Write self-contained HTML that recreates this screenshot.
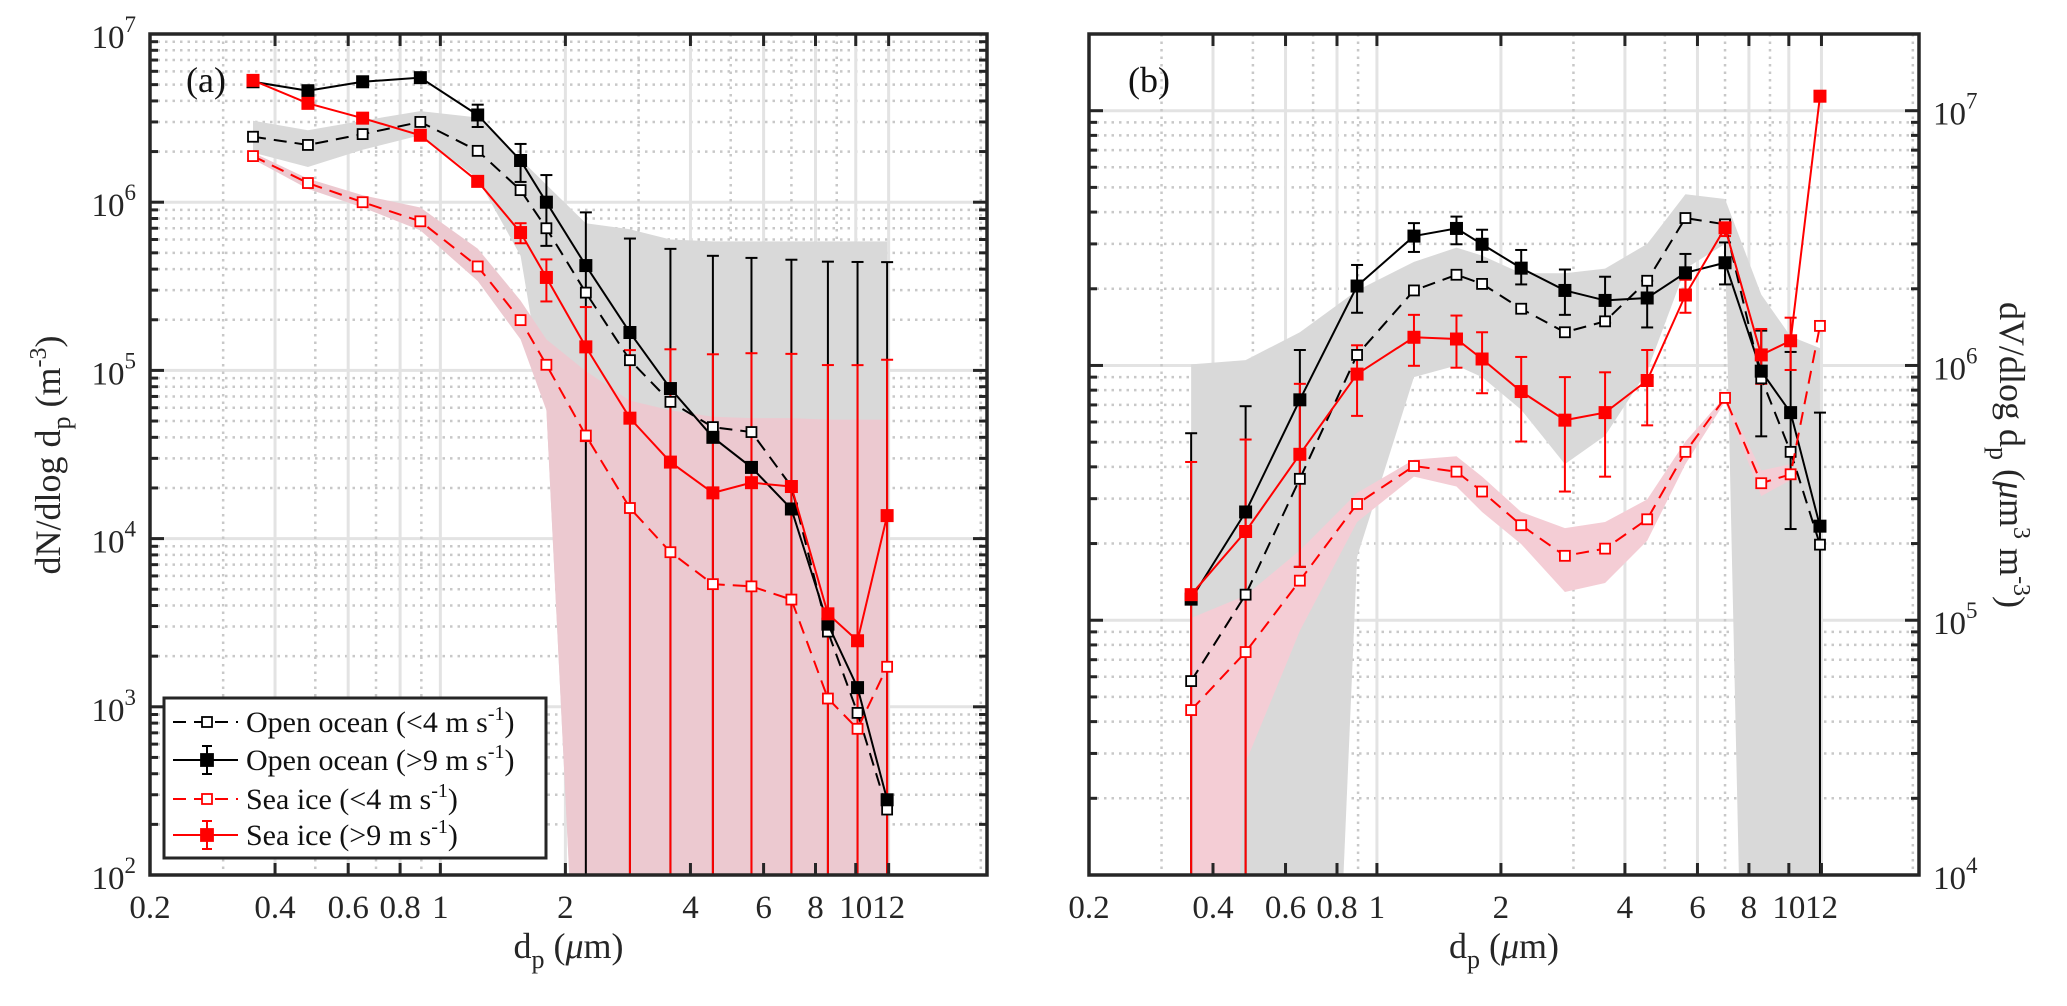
<!DOCTYPE html>
<html><head><meta charset="utf-8">
<style>
html,body{margin:0;padding:0;background:#fff;overflow:hidden;width:2067px;height:1006px;}
svg{display:block;font-family:"Liberation Serif",serif;}
</style></head>
<body>
<svg id="fig" width="2067" height="1006" viewBox="0 0 2067 1006" xmlns="http://www.w3.org/2000/svg">
<defs>
<clipPath id="clipA"><rect x="150" y="34" width="837" height="841"/></clipPath>
<clipPath id="clipB"><rect x="1089" y="34" width="830" height="841"/></clipPath>
</defs>
<g id="panelA"></g>
<g id="panelB"></g>
</svg>
<script>
// ---------- shared data ----------
const dp = [0.354,0.480,0.650,0.895,1.23,1.56,1.80,2.24,2.86,3.58,4.53,5.61,7.0,8.57,10.1,11.9];
const xTicks = [0.2,0.4,0.6,0.8,1,2,4,6,8,10,12];
const xTickLabels = ["0.2","0.4","0.6","0.8","1","2","4","6","8","10","12"];
const xMinor = [0.3,0.5,0.7,0.9,3,5,7,9,20];

// ---------- panel (a) dN/dlogdp ----------
const aOpenLow = [2.45e6,2.19e6,2.54e6,3.0e6,2.02e6,1.18e6,7.0e5,2.9e5,1.15e5,6.5e4,4.6e4,4.3e4,2.04e4,2.8e3,9.2e2,2.45e2];
const aOpenHigh = [5.2e6,4.6e6,5.2e6,5.5e6,3.3e6,1.77e6,1.0e6,4.2e5,1.68e5,7.8e4,4.0e4,2.65e4,1.5e4,3.1e3,1.3e3,2.8e2];
const aOpenHighErr = [3e5,3e5,3e5,3e5,5e5,4.5e5,4.5e5,4.5e5,4.4e5,4.5e5,4.4e5,4.4e5,4.4e5,4.4e5,4.4e5,4.4e5];
const aIceLow = [1.88e6,1.3e6,1.0e6,7.7e5,4.15e5,1.99e5,1.08e5,4.1e4,1.52e4,8.3e3,5.36e3,5.2e3,4.34e3,1.12e3,7.4e2,1.73e3];
const aIceHigh = [5.3e6,3.87e6,3.16e6,2.5e6,1.33e6,6.6e5,3.57e5,1.38e5,5.2e4,2.85e4,1.87e4,2.15e4,2.04e4,3.57e3,2.47e3,1.37e4];
const aIceHighErr = [1.5e5,1e5,1e5,1e5,0.8e5,0.9e5,1.0e5,1.0e5,0.8e5,1.05e5,1.06e5,1.05e5,1.05e5,1.04e5,1.05e5,1.02e5];
const aGrayHi = [3.05e6,2.68e6,3.05e6,3.48e6,3.19e6,1.8e6,1.27e6,7.5e5,6.9e5,6.0e5,5.85e5,5.85e5,5.85e5,5.85e5,5.85e5,5.85e5];
const aGrayLo = [1.97e6,1.62e6,2.05e6,2.5e6,1.38e6,4.8e5,5.85e4,1,1,1,1,1,1,1,1,1];
const aPinkHi = [1.97e6,1.38e6,1.1e6,9.3e5,5.3e5,2.6e5,1.53e5,9.9e4,6.6e4,5.8e4,5.3e4,5.2e4,5.2e4,5.1e4,5.1e4,5.1e4];
const aPinkLo = [1.8e6,1.2e6,9.3e5,6.8e5,3.4e5,1.53e5,5.8e4,1,1,1,1,1,1,1,1,1];

// ---------- panel (b) dV/dlogdp ----------
const bOpenLow = [5.77e4,1.26e5,3.59e5,1.1e6,1.97e6,2.27e6,2.09e6,1.67e6,1.35e6,1.49e6,2.15e6,3.79e6,3.58e6,8.9e5,4.58e5,1.98e5];
const bOpenHigh = [1.21e5,2.66e5,7.33e5,2.05e6,3.22e6,3.45e6,2.99e6,2.41e6,1.97e6,1.8e6,1.84e6,2.31e6,2.53e6,9.5e5,6.53e5,2.34e5];
const bOpenHighUp = [5.42e5,6.92e5,1.15e6,2.48e6,3.62e6,3.84e6,3.41e6,2.84e6,2.38e6,2.23e6,2.15e6,2.74e6,3.04e6,1.37e6,1.13e6,6.53e5];
const bOpenHighDn = [1,1,1.62e5,1.61e6,2.79e6,2.99e6,2.55e6,2.08e6,1.58e6,1.47e6,1.41e6,1.93e6,2.08e6,5.27e5,2.28e5,1];
const bIceLow = [4.44e4,7.5e4,1.43e5,2.86e5,4.03e5,3.83e5,3.2e5,2.36e5,1.79e5,1.91e5,2.49e5,4.58e5,7.46e5,3.45e5,3.74e5,1.43e6];
const bIceHigh = [1.26e5,2.23e5,4.48e5,9.25e5,1.29e6,1.27e6,1.06e6,7.9e5,6.1e5,6.53e5,8.73e5,1.89e6,3.47e6,1.1e6,1.25e6,1.14e7];
const bIceHighUp = [4.18e5,5.12e5,8.47e5,1.2e6,1.58e6,1.57e6,1.35e6,1.08e6,9.0e5,9.4e5,1.15e6,2.17e6,3.73e6,1.39e6,1.54e6,1.17e7];
const bIceHighDn = [1,1,1.62e5,6.34e5,9.97e5,9.8e5,7.78e5,5.03e5,3.2e5,3.66e5,5.82e5,1.61e6,3.22e6,8.47e5,9.6e5,1.11e7];
const bGrayHi = [1.01e6,1.05e6,1.35e6,1.97e6,2.55e6,2.9e6,2.7e6,2.3e6,2.3e6,2.4e6,3.0e6,4.7e6,4.5e6,1.9e6,1.3e6,1.17e6];
const bGrayLo = [1,1,1,1.77e5,9.0e5,1.0e6,9.0e5,6.7e5,4.1e5,5.3e5,9.5e5,2.4e6,3.0e6,1,1,1];
const bPinkHi = [1.02e5,1.25e5,1.88e5,3.16e5,4.27e5,4.4e5,3.66e5,2.66e5,2.3e5,2.43e5,2.98e5,5.03e5,7.55e5,3.87e5,4.1e5];
const bPinkLo = [1,2.76e4,9.08e4,2.43e5,3.66e5,3.35e5,2.66e5,1.99e5,1.29e5,1.4e5,2.05e5,4.1e5,7.2e5,3.07e5,3.55e5];

const NS = "http://www.w3.org/2000/svg";
function mk(tag, attrs, parent){
  const e = document.createElementNS(NS, tag);
  for (const k in attrs) e.setAttribute(k, attrs[k]);
  if (parent) parent.appendChild(e);
  return e;
}
function makeAxis(L,R,T,B,xmin,xmax,ymin,ymax){
  const lx0=Math.log10(xmin), lx1=Math.log10(xmax), ly0=Math.log10(ymin), ly1=Math.log10(ymax);
  return {
    L,R,T,B,ymin,ymax,
    x: v => L + (Math.log10(v)-lx0)/(lx1-lx0)*(R-L),
    y: v => B - (Math.log10(Math.max(v,1e-3))-ly0)/(ly1-ly0)*(B-T)
  };
}
const XMIN=0.2, XMAX=20.7;

function drawGrid(g, ax, yDecMin, yDecMax){
  for (let d=yDecMin; d<yDecMax; d++){
    for (let m=2;m<=9;m++){
      const yy=ax.y(m*Math.pow(10,d));
      if (yy<ax.T) continue;
      const l=mk('line',{x1:ax.L,x2:ax.R,y1:yy,y2:yy,stroke:'#c8c8c8','stroke-width':2.5,'stroke-dasharray':'2.5 5'},g);
      
      
    }
  }
  for (let d=yDecMin; d<=yDecMax; d++){
    const yy=ax.y(Math.pow(10,d));
    if (yy<ax.T-1) continue;
    const l=mk('line',{x1:ax.L,x2:ax.R,y1:yy,y2:yy,stroke:'#e3e3e3','stroke-width':3},g);
    
    
  }
  xMinor.forEach(v=>{
    const xx=ax.x(v);
    const l=mk('line',{x1:xx,x2:xx,y1:ax.T,y2:ax.B,stroke:'#c8c8c8','stroke-width':2.5,'stroke-dasharray':'2.5 5'},g);
    
    
  });
  xTicks.forEach(v=>{
    const xx=ax.x(v);
    const l=mk('line',{x1:xx,x2:xx,y1:ax.T,y2:ax.B,stroke:'#e3e3e3','stroke-width':3},g);
    
    
  });
}
function clampY(ax, yy){ return Math.min(yy, ax.B+60); }
function drawBand(g, ax, hi, lo, color, name){
  const n=hi.length;
  const lim=ax.B+5;
  const top=[];
  for(let i=0;i<n;i++) top.push([ax.x(dp[i]),ax.y(hi[i])]);
  const low=[];
  for(let i=0;i<n;i++) low.push([ax.x(dp[i]),ax.y(lo[i])]);
  const lowClipped=[];
  for(let i=0;i<n;i++){
    const p=low[i];
    if(p[1]<=lim) lowClipped.push(p); else lowClipped.push([p[0],lim]);
    if(i<n-1){
      const q=low[i+1];
      if((p[1]<=lim)!==(q[1]<=lim)){
        const t=(lim-p[1])/(q[1]-p[1]);
        lowClipped.push([p[0]+t*(q[0]-p[0]),lim]);
      }
    }
  }
  const all=top.concat(lowClipped.reverse()).map(p=>p[0]+','+p[1]).join(' ');
  const poly=mk('polygon',{points:all,fill:color,stroke:'none'},g);
  
  
}
function drawErr(g, ax, up, dn, color, name){
  for(let i=0;i<dp.length;i++){
    const xx=ax.x(dp[i]), y1=ax.y(up[i]), y2=Math.min(ax.y(dn[i]),ax.B+20);
    const eg=mk('g',{},g);
    
    
    mk('line',{x1:xx,x2:xx,y1:y1,y2:y2,stroke:color,'stroke-width':2},eg);
    mk('line',{x1:xx-6,x2:xx+6,y1:y1,y2:y1,stroke:color,'stroke-width':2},eg);
    mk('line',{x1:xx-6,x2:xx+6,y1:y2,y2:y2,stroke:color,'stroke-width':2},eg);
  }
}
function drawSeries(g, ax, vals, color, dashed, filled, name){
  const pts=vals.map((v,i)=>ax.x(dp[i])+','+clampY(ax,ax.y(v))).join(' ');
  const pl=mk('polyline',{points:pts,fill:'none',stroke:color,'stroke-width':2,'stroke-dasharray':dashed?'13 8':'none'},g);
  
  
  vals.forEach((v,i)=>{
    const s=filled?12:10;
    const r=mk('rect',{x:ax.x(dp[i])-s/2,y:clampY(ax,ax.y(v))-s/2,width:s,height:s,fill:filled?color:'#fff',stroke:color,'stroke-width':filled?1:1.8},g);
    
    
  });
}
function drawFrame(g, ax, yDecMin, yDecMax, rightSide){
  const f=mk('rect',{x:ax.L,y:ax.T,width:ax.R-ax.L,height:ax.B-ax.T,fill:'none',stroke:'#262626','stroke-width':3.5},g);
  
  
  for (let d=yDecMin; d<=yDecMax; d++){
    for (let m=1;m<=9;m++){
      const v=m*Math.pow(10,d); const yy=ax.y(v);
      if (yy<ax.T-1||yy>ax.B+1) continue;
      const len=m===1?14:8;
      mk('line',{x1:ax.L,x2:ax.L+len,y1:yy,y2:yy,stroke:'#262626','stroke-width':3},g);
      mk('line',{x1:ax.R,x2:ax.R-len,y1:yy,y2:yy,stroke:'#262626','stroke-width':3},g);
    }
    const yy=ax.y(Math.pow(10,d));
    if (yy<ax.T-1) continue;
    const t=mk('text',{x:rightSide?ax.R+14:ax.L-14,y:yy+14,'font-size':33,'text-anchor':rightSide?'start':'end',fill:'#262626'},g);
    
    
    t.appendChild(document.createTextNode('10'));
    const ts=mk('tspan',{dy:-16,'font-size':23},t);
    ts.textContent=String(d);
  }
  xTicks.forEach((v,i)=>{
    const xx=ax.x(v);
    mk('line',{x1:xx,x2:xx,y1:ax.B,y2:ax.B-12,stroke:'#262626','stroke-width':3},g);
    mk('line',{x1:xx,x2:xx,y1:ax.T,y2:ax.T+12,stroke:'#262626','stroke-width':3},g);
    const t=mk('text',{x:xx,y:ax.B+43,'font-size':33,'text-anchor':'middle',fill:'#262626'},g);
    
    
    t.textContent=xTickLabels[i];
  });
  const xl=mk('text',{x:(ax.L+ax.R)/2,y:ax.B+83,'font-size':36,'text-anchor':'middle',fill:'#262626'},g);
  
  
  xl.innerHTML='d<tspan dy="10" font-size="26">p</tspan><tspan dy="-10"> (</tspan><tspan font-style="italic">μ</tspan>m)';
}

// ----- Panel A -----
const gA=document.getElementById('panelA');
const axA=makeAxis(150,987,34,875,XMIN,XMAX,1e2,1e7);
drawGrid(gA,axA,2,7);
const plotA=mk('g',{'clip-path':'url(#clipA)'},gA);


drawBand(plotA,axA,aGrayHi,aGrayLo,'#d9d9d9','band-open-ocean-low-wind');
drawBand(plotA,axA,aPinkHi,aPinkLo,'#ecc9d0','band-sea-ice-low-wind');
drawErr(plotA,axA,aOpenHigh.map((v,i)=>v+aOpenHighErr[i]),aOpenHigh.map((v,i)=>v-aOpenHighErr[i]),'#000','errorbar-open-ocean-high-wind');
drawErr(plotA,axA,aIceHigh.map((v,i)=>v+aIceHighErr[i]),aIceHigh.map((v,i)=>v-aIceHighErr[i]),'#f00','errorbar-sea-ice-high-wind');
drawSeries(plotA,axA,aOpenLow,'#000',true,false,'open-ocean-low-wind');
drawSeries(plotA,axA,aOpenHigh,'#000',false,true,'open-ocean-high-wind');
drawSeries(plotA,axA,aIceLow,'#f00',true,false,'sea-ice-low-wind');
drawSeries(plotA,axA,aIceHigh,'#f00',false,true,'sea-ice-high-wind');
drawFrame(gA,axA,2,7,false);
const labA=mk('text',{x:186,y:92,'font-size':36,fill:'#111'},gA);


labA.textContent='(a)';
const ylA=mk('text',{transform:'translate(60,455) rotate(-90)','font-size':36,'text-anchor':'middle',fill:'#262626'},gA);


ylA.innerHTML='dN/dlog d<tspan dy="10" font-size="26">p</tspan><tspan dy="-10"> (m</tspan><tspan dy="-14" font-size="24">-3</tspan><tspan dy="14">)</tspan>';

// legend
const lg=mk('g',{},gA);


mk('rect',{x:164,y:698,width:382,height:160,fill:'#fff',stroke:'#262626','stroke-width':3},lg);
const legY=[722,760,799,835];
const legItems=[['Open ocean (<4 m s','#000',true,false,false],['Open ocean (>9 m s','#000',false,true,true],['Sea ice (<4 m s','#f00',true,false,false],['Sea ice (>9 m s','#f00',false,true,true]];
legItems.forEach((it,i)=>{
  const yy=legY[i];
  const e=mk('g',{},lg);
  
  
  mk('line',{x1:173,x2:238,y1:yy,y2:yy,stroke:it[1],'stroke-width':2,'stroke-dasharray':it[2]?'13 8':'none'},e);
  if(it[4]){
    mk('line',{x1:207,x2:207,y1:yy-14,y2:yy+14,stroke:it[1],'stroke-width':2},e);
    mk('line',{x1:202,x2:212,y1:yy-14,y2:yy-14,stroke:it[1],'stroke-width':2},e);
    mk('line',{x1:202,x2:212,y1:yy+14,y2:yy+14,stroke:it[1],'stroke-width':2},e);
  }
  const s=it[3]?12:10;
  mk('rect',{x:207-s/2,y:yy-s/2,width:s,height:s,fill:it[3]?it[1]:'#fff',stroke:it[1],'stroke-width':1.8},e);
  const t=mk('text',{x:246,y:yy+10,'font-size':30,fill:'#111'},e);
  t.innerHTML=it[0]+'<tspan dy="-12" font-size="20">-1</tspan><tspan dy="12">)</tspan>';
});

// ----- Panel B -----
const gB=document.getElementById('panelB');
const axB=makeAxis(1089,1919,34,875,XMIN,XMAX,1e4,2e7);
drawGrid(gB,axB,4,7);
const plotB=mk('g',{'clip-path':'url(#clipB)'},gB);


drawBand(plotB,axB,bGrayHi,bGrayLo,'#d9d9d9','band-open-ocean-low-wind');
drawBand(plotB,axB,bPinkHi,bPinkLo,'#f4cdd5','band-sea-ice-low-wind');
drawErr(plotB,axB,bOpenHighUp,bOpenHighDn,'#000','errorbar-open-ocean-high-wind');
drawErr(plotB,axB,bIceHighUp,bIceHighDn,'#f00','errorbar-sea-ice-high-wind');
drawSeries(plotB,axB,bOpenLow,'#000',true,false,'open-ocean-low-wind');
drawSeries(plotB,axB,bOpenHigh,'#000',false,true,'open-ocean-high-wind');
drawSeries(plotB,axB,bIceLow,'#f00',true,false,'sea-ice-low-wind');
drawSeries(plotB,axB,bIceHigh,'#f00',false,true,'sea-ice-high-wind');
drawFrame(gB,axB,4,7,true);
const labB=mk('text',{x:1128,y:92,'font-size':36,fill:'#111'},gB);


labB.textContent='(b)';
const ylB=mk('text',{transform:'translate(2000,455) rotate(90)','font-size':36,'text-anchor':'middle',fill:'#262626'},gB);


ylB.innerHTML='dV/dlog d<tspan dy="10" font-size="26">p</tspan><tspan dy="-10"> (</tspan><tspan font-style="italic">μ</tspan>m<tspan dy="-14" font-size="24">3</tspan><tspan dy="14"> m</tspan><tspan dy="-14" font-size="24">-3</tspan><tspan dy="14">)</tspan>';
</script>
</body></html>
